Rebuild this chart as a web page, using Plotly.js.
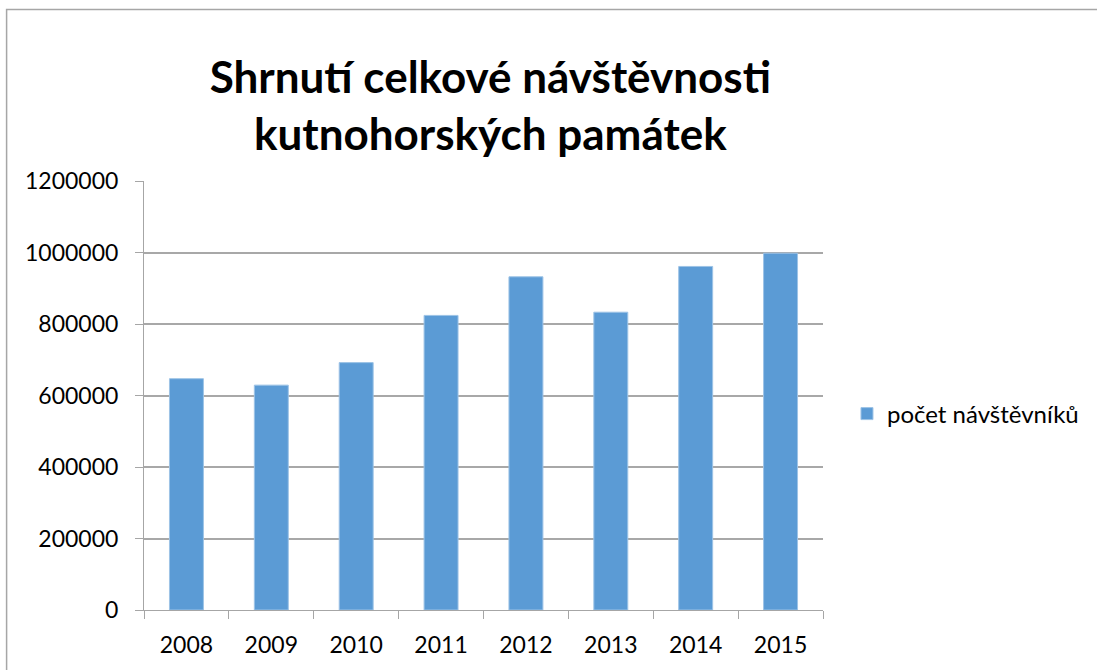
<!DOCTYPE html>
<html>
<head>
<meta charset="utf-8">
<script src="https://cdn.plot.ly/plotly-3.0.1.min.js"></script>
<style>
html,body{margin:0;padding:0;background:#fff;}
#chart{width:1097px;height:670px;}
</style>
</head>
<body>
<div id="chart"></div>
<script>
const years = ["2008","2009","2010","2011","2012","2013","2014","2015"];
const visitors = [647000, 629000, 692000, 824000, 932000, 833000, 961000, 998000];
const seriesName = "počet návštěvníků";
const chartTitle = "Shrnutí celkové návštěvnosti<br>kutnohorských památek";
const yTicks = [0, 200000, 400000, 600000, 800000, 1000000, 1200000];

const W = 1097, H = 670;
const L = 143.5, R = 823, T = 181, B = 610;
const px2x = p => (p - L) / (R - L);
const px2y = p => (B - p) / (B - T);

const FONT = "Lato, 'Noto Sans', sans-serif";

Plotly.newPlot("chart", [{
  type: "bar",
  x: years,
  y: visitors,
  name: seriesName,
  marker: {color: "#5b9bd5", line: {color: "#9dc3e6", width: 1}},
  showlegend: true
}], {
  width: W, height: H,
  margin: {l: L, r: W - R, t: T, b: H - B, pad: 0},
  paper_bgcolor: "#ffffff",
  plot_bgcolor: "#ffffff",
  bargap: 0.6,
  title: {
    text: chartTitle,
    font: {family: FONT, size: 44, color: "#000", weight: "bold"},
    x: 0.447, xanchor: "center",
    y: 1 - 93 / H, yanchor: "middle", yref: "container"
  },
  xaxis: {
    type: "category",
    showline: true, linecolor: "#a6a6a6", linewidth: 1,
    ticks: "outside", tickson: "boundaries", ticklen: 8, tickcolor: "#a6a6a6",
    showgrid: false,
    tickfont: {family: FONT, size: 23, color: "#000"},
    ticklabelstandoff: 14,
    fixedrange: true
  },
  yaxis: {
    range: [0, 1200000],
    tickvals: yTicks,
    ticktext: yTicks.map(String),
    showline: true, linecolor: "#a6a6a6", linewidth: 1,
    ticks: "outside", ticklen: 8, tickcolor: "#a6a6a6",
    showgrid: true, gridcolor: "#a8a8a8", gridwidth: 2,
    zeroline: false,
    tickfont: {family: FONT, size: 23, color: "#000"},
    ticklabelstandoff: 12,
    fixedrange: true
  },
  legend: {
    x: px2x(847), xanchor: "left",
    y: px2y(414), yanchor: "middle",
    font: {family: FONT, size: 24, color: "#000"},
    itemwidth: 30, bgcolor: "rgba(0,0,0,0)"
  },
  shapes: [{
    type: "rect", xref: "paper", yref: "paper",
    x0: px2x(6), x1: px2x(1110), y0: px2y(9.5), y1: px2y(690),
    line: {color: "#a6a6a6", width: 1.5}, fillcolor: "rgba(0,0,0,0)", layer: "below"
  }]
}, {displayModeBar: false, staticPlot: true});
</script>
</body>
</html>
